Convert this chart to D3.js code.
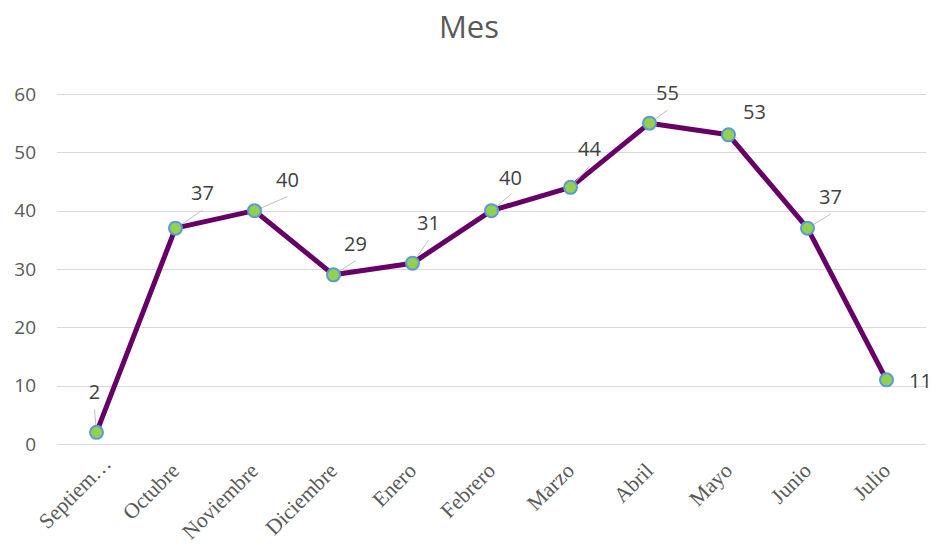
<!DOCTYPE html>
<html>
<head>
<meta charset="utf-8">
<script src="https://cdn.jsdelivr.net/npm/d3@7"></script>
<style>
  html, body { margin: 0; padding: 0; background: #fff; }
  svg { display: block; }
</style>
</head>
<body>
<svg id="chart" width="934" height="549"></svg>
<script>
// ---- data ----
const categories = ["Septiem…", "Octubre", "Noviembre", "Diciembre", "Enero", "Febrero", "Marzo", "Abril", "Mayo", "Junio", "Julio"];
const values = [2, 37, 40, 29, 31, 40, 44, 55, 53, 37, 11];
const yTicks = [0, 10, 20, 30, 40, 50, 60];
const title = "Mes";

// ---- layout (label placement, not data) ----
const labelOffsets = [[-2, -40], [27, -35], [33, -31], [22, -31], [16, -40], [19, -33], [19, -38], [18, -30], [26, -23], [23, -31], [34, 1]];
const hasLeader = [true, true, true, true, true, true, true, true, false, true, false];

const svg = d3.select("#chart");

const x = d3.scaleBand().domain(categories).range([57, 926]).paddingInner(0).paddingOuter(0);
const y = d3.scaleLinear().domain([0, 60]).range([444, 94]);

// title
svg.append("text")
  .attr("x", 469).attr("y", 38)
  .attr("text-anchor", "middle")
  .attr("font-family", "'Open Sans', 'Liberation Sans', sans-serif")
  .attr("font-size", 31)
  .attr("fill", "#595959")
  .text(title);

// gridlines
svg.append("g")
  .selectAll("line").data(yTicks).join("line")
  .attr("x1", 57).attr("x2", 926)
  .attr("y1", d => Math.round(y(d)) + 0.5).attr("y2", d => Math.round(y(d)) + 0.5)
  .attr("stroke", "#d9d9d9").attr("stroke-width", 1);

// y axis labels
const yAxis = d3.axisLeft(y).tickValues(yTicks).tickSize(0).tickPadding(0);
const gy = svg.append("g").attr("transform", "translate(36,0)").call(yAxis);
gy.select(".domain").remove();
gy.selectAll("text")
  .attr("font-family", "'Open Sans', 'Liberation Sans', sans-serif")
  .attr("font-size", 19)
  .attr("fill", "#595959");

// x axis labels
const xAxis = d3.axisBottom(x).tickSize(0).tickPadding(0);
const gx = svg.append("g").attr("transform", "translate(0,444)").call(xAxis);
gx.select(".domain").remove();
gx.selectAll("text")
  .attr("font-family", "'Liberation Serif', 'Times New Roman', serif")
  .attr("font-size", 21.5)
  .attr("fill", "#595959")
  .attr("text-anchor", "end")
  .attr("dy", null)
  .attr("transform", (d, i) => i === 0 ? "translate(16,21) rotate(-45)" : "translate(5,28) rotate(-45)");

// line
const cx = (d, i) => x(categories[i]) + x.bandwidth() / 2;
const line = d3.line().x((d, i) => cx(d, i)).y(d => y(d));
svg.append("path")
  .datum(values)
  .attr("d", line)
  .attr("fill", "none")
  .attr("stroke", "#660066")
  .attr("stroke-width", 5)
  .attr("stroke-linejoin", "round");

// leader lines
const leaders = svg.append("g");
values.forEach((v, i) => {
  if (!hasLeader[i]) return;
  const px = cx(v, i), py = y(v);
  const lx = px + labelOffsets[i][0], ly = py + labelOffsets[i][1] + 17;
  const dx = lx - px, dy = ly - py, len = Math.hypot(dx, dy);
  leaders.append("line")
    .attr("x1", px + dx / len * 7).attr("y1", py + dy / len * 7)
    .attr("x2", lx).attr("y2", ly)
    .attr("stroke", "#bfbfbf").attr("stroke-width", 1);
});

// markers
svg.append("g").selectAll("circle").data(values).join("circle")
  .attr("cx", (d, i) => cx(d, i))
  .attr("cy", d => y(d))
  .attr("r", 6.5)
  .attr("fill", "#92d050")
  .attr("stroke", "#5b9bd5")
  .attr("stroke-width", 2);

// data labels
svg.append("g").selectAll("text").data(values).join("text")
  .attr("x", (d, i) => cx(d, i) + labelOffsets[i][0])
  .attr("y", (d, i) => y(d) + labelOffsets[i][1])
  .attr("dy", "0.35em")
  .attr("text-anchor", "middle")
  .attr("font-family", "'Open Sans', 'Liberation Sans', sans-serif")
  .attr("font-size", 20)
  .attr("fill", "#404040")
  .text(d => d);
</script>
</body>
</html>
